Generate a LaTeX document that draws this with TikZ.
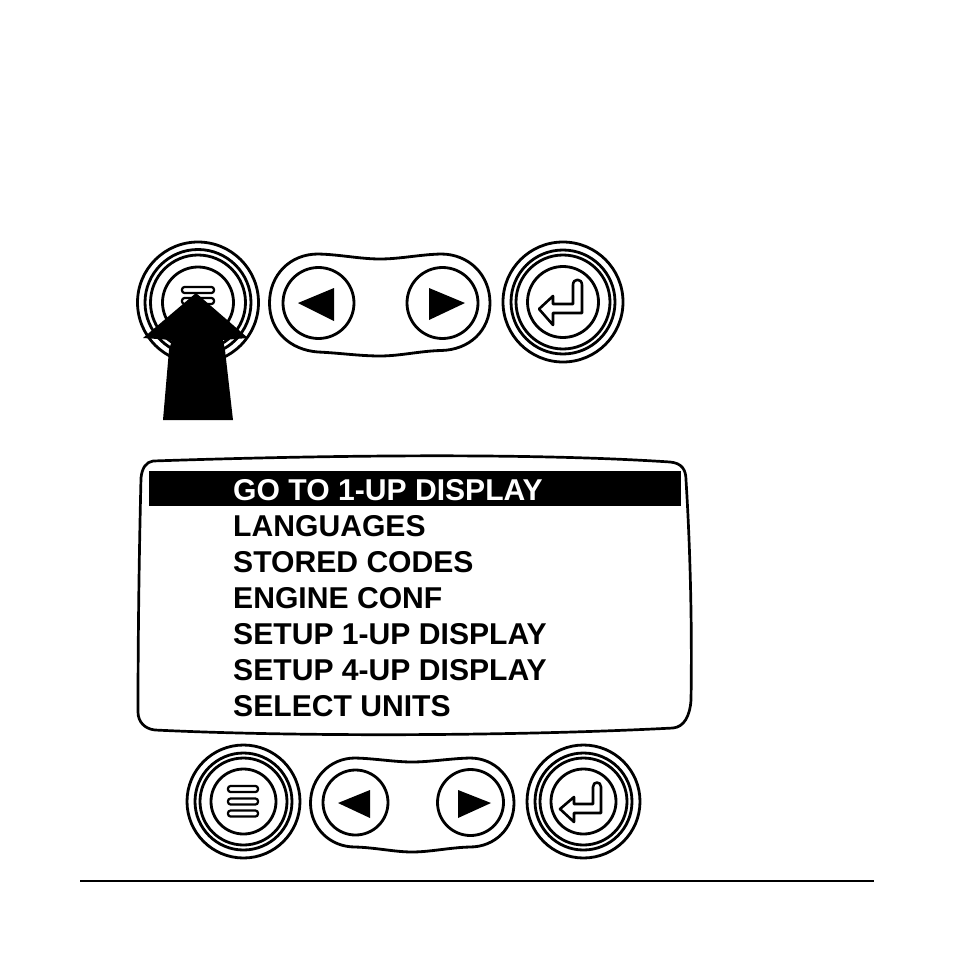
\documentclass[tikz,border=0pt]{standalone}
\usepackage{fontspec}
\setmainfont{Liberation Sans}
\newcommand{\ringbtn}[6]{% cx cy r1 r2 r3 r4
  \draw[ringline] (#1,#2) circle[radius=#3];
  \draw[ringline] (#1,#2) circle[radius=#4];
  \draw[ringline] (#1,#2) circle[radius=#5];
  \draw[ringline] (#1,#2) circle[radius=#6];
}
\begin{document}
\begin{tikzpicture}[x=0.03cm,y=-0.03cm,
  ringline/.style={line width=2.4pt,black},
  thinline/.style={line width=2.2pt,black,line join=round},
  menubar/.style={line width=1.9pt,black,fill=white,rounded corners=2.2pt},
  menuitem/.style={anchor=base west,inner sep=0pt,font=\fontsize{25.7pt}{27pt}\bfseries\selectfont,text=#1},
  menuitem/.default=black]
\useasboundingbox (0,0) rectangle (954,954);
\fill[white] (0,0) rectangle (954,954);

% ---- top button row
\ringbtn{198}{302.5}{60.5}{53}{47.5}{35.5}
\foreach \yy in {287,298,309}
  \draw[menubar] (182,\yy) rectangle (214,\yy+6);
\draw[ringline] (269.5,303)
  .. controls (269.5,275) and (290,254) .. (318,254)
  .. controls (340,254.5) and (360,259) .. (380,259)
  .. controls (400,259) and (420,254.5) .. (441,254)
  .. controls (469,254) and (490,275) .. (490,303)
  .. controls (490,331) and (469,350) .. (441,350.5)
  .. controls (420,351) and (400,356) .. (380,356)
  .. controls (360,356) and (340,353) .. (318,352)
  .. controls (290,350) and (269.5,331) .. (269.5,303) -- cycle;
\draw[ringline] (318.5,303) circle[radius=35.5];
\draw[ringline] (442.5,303) circle[radius=35.5];
\fill (298,303) -- (334,288) -- (334,321) -- cycle;
\fill (429,288) -- (429,320) -- (465,303) -- cycle;
\ringbtn{563}{302}{60}{52}{47}{35.5}
\draw[thinline] (539,309) -- (553,296) -- (553,304) -- (573,304) -- (573,285)
  .. controls (573,278) and (582,278) .. (582,285) -- (582,313) -- (553,313) -- (553,325) -- cycle;
% pointing arrow
\fill (196,293) -- (248,338) -- (223,340) -- (225,350) -- (233,420) -- (163,420) -- (169,350) -- (172,340) -- (143,338) -- cycle;

% ---- display
\draw[line width=2.3pt,black,line join=round] (153,461)
  .. controls (300,456) and (520,452) .. (670,462)
  .. controls (682,463) and (686,470) .. (686,480)
  .. controls (691,560) and (692,640) .. (691,700)
  .. controls (690,716) and (684,727) .. (673,728)
  .. controls (520,736) and (300,737) .. (155,730)
  .. controls (145,729) and (138,722) .. (138,712)
  .. controls (138,640) and (139,560) .. (141,478)
  .. controls (142,468) and (146,462) .. (153,461) -- cycle;
\fill (149,471) rectangle (681,506);
\node[menuitem=white] (m1) at (233,500) {GO TO 1-UP DISPLAY};
\node[menuitem] (m2) at (233,536) {LANGUAGES};
\node[menuitem] (m3) at (233,572) {STORED CODES};
\node[menuitem] (m4) at (233,608.5) {ENGINE CONF};
\node[menuitem] (m5) at (233,644.5) {SETUP 1-UP DISPLAY};
\node[menuitem] (m6) at (233,680.5) {SETUP 4-UP DISPLAY};
\node[menuitem] (m7) at (233,716.5) {SELECT UNITS};

% ---- bottom button row
\ringbtn{243.5}{801.5}{56.5}{48.5}{43.5}{32.5}
\foreach \yy in {786,798.5,810.5}
  \draw[menubar] (228,\yy) rectangle (258,\yy+6);
\draw[ringline] (310.5,803)
  .. controls (310.5,778) and (330,758) .. (355,758)
  .. controls (375,758.5) and (395,762) .. (412,762)
  .. controls (430,762) and (450,758.5) .. (470,758)
  .. controls (495,758) and (514,778) .. (514,803)
  .. controls (514,828) and (495,847) .. (470,847)
  .. controls (450,847.5) and (430,852) .. (412,852)
  .. controls (395,852) and (375,847.5) .. (355,847)
  .. controls (330,847) and (310.5,828) .. (310.5,803) -- cycle;
\draw[ringline] (355.5,802.5) circle[radius=32.5];
\draw[ringline] (470.5,802.5) circle[radius=33];
\fill (338,803) -- (370,790) -- (370,818) -- cycle;
\fill (458,790) -- (458,818) -- (491,803) -- cycle;
\ringbtn{583.5}{801.5}{56.5}{48.5}{43.5}{32.5}
\draw[thinline] (560,809) -- (574,797) -- (574,804) -- (593,804) -- (593,787)
  .. controls (593,781) and (601,781) .. (601,787) -- (601,813) -- (574,813) -- (574,822) -- cycle;

% ---- rule
\draw[line width=1.7pt,black] (80,881) -- (874,881);
\end{tikzpicture}
\end{document}
